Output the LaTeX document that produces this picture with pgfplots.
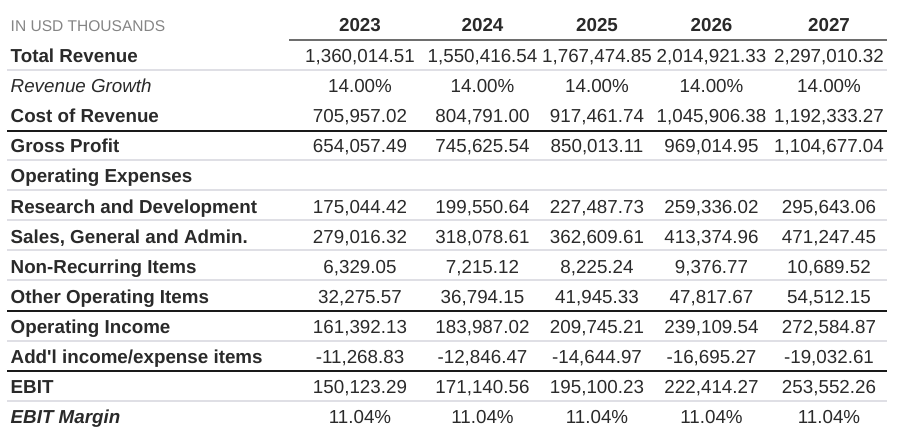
\documentclass[border=0pt]{standalone}
\usepackage{pgfplots}
\pgfplotsset{compat=1.18}
\usepackage{fontspec}
\setmainfont{Liberation Sans}
\definecolor{txt}{HTML}{2A2A2A}
\definecolor{hdr}{HTML}{858585}
\definecolor{rulec}{HTML}{DFDFE5}
\definecolor{darkc}{HTML}{1A1A1A}
\definecolor{hlinec}{HTML}{6E6E6E}
\newcommand{\bodyfont}{\fontsize{18.86}{22}\selectfont}
\begin{document}
\begin{tikzpicture}
\begin{axis}[scale only axis, width=900bp, height=437bp,
  xmin=0, xmax=900, ymin=0, ymax=437, y dir=reverse,
  hide axis, clip=false,
  txtplot/.style={draw=none, mark=none, nodes near coords={\pgfplotspointmeta},
    point meta=explicit symbolic,
    every node near coord/.append style={inner sep=0pt, text=txt, font=\bodyfont}},
]
% frame for bounding box
\addplot[draw=none, mark=none] coordinates {(0,0) (900,437)};
% rules
\addplot[hlinec, line width=1.6bp, mark=none] coordinates {(289,40) (887,40)};
\addplot[rulec, line width=2bp, mark=none] coordinates {(7,70) (887,70)};
\addplot[darkc, line width=2bp, mark=none] coordinates {(7,130.5) (887,130.5)};
\addplot[rulec, line width=2bp, mark=none] coordinates {(7,160) (887,160)};
\addplot[rulec, line width=2bp, mark=none] coordinates {(7,190) (887,190)};
\addplot[rulec, line width=2bp, mark=none] coordinates {(7,220) (887,220)};
\addplot[rulec, line width=2bp, mark=none] coordinates {(7,250) (887,250)};
\addplot[rulec, line width=2bp, mark=none] coordinates {(7,280) (887,280)};
\addplot[darkc, line width=2bp, mark=none] coordinates {(7,310.7) (887,310.7)};
\addplot[rulec, line width=2bp, mark=none] coordinates {(7,340.7) (887,340.7)};
\addplot[darkc, line width=2bp, mark=none] coordinates {(7,370.7) (887,370.7)};
\addplot[rulec, line width=2bp, mark=none] coordinates {(7,400.7) (887,400.7)};
% header
\addplot[txtplot, every node near coord/.append style={anchor=base west, text=hdr, font=\fontsize{15.6}{18}\selectfont}]
  coordinates {(10.5,32) [IN USD THOUSANDS]};
\addplot[txtplot, every node near coord/.append style={anchor=base, font=\bodyfont\bfseries}]
  coordinates {(360,32) [2023] (482.5,32) [2024] (597,32) [2025] (711.5,32) [2026] (829,32) [2027]};
% row labels (bold)
\addplot[txtplot, every node near coord/.append style={anchor=base west, font=\bodyfont\bfseries}]
  coordinates {
  (10.5,62.5) [Total Revenue]
  (10.5,122.7) [Cost of Revenue]
  (10.5,152.8) [Gross Profit]
  (10.5,182.9) [Operating Expenses]
  (10.5,213.0) [Research and Development]
  (10.5,243.1) [Sales, General and Admin.]
  (10.5,273.2) [Non-Recurring Items]
  (10.5,303.3) [Other Operating Items]
  (10.5,333.4) [Operating Income]
  (10.5,363.5) [Add\textquotesingle l income/expense items]
  (10.5,393.6) [EBIT]
  };
\addplot[txtplot, every node near coord/.append style={anchor=base west, font=\bodyfont\itshape}]
  coordinates {(10.5,92.6) [Revenue Growth]};
\addplot[txtplot, every node near coord/.append style={anchor=base west, font=\bodyfont\bfseries\itshape}]
  coordinates {(10.5,423.7) [EBIT Margin]};
% values 2023
\addplot[txtplot, every node near coord/.append style={anchor=base}]
  coordinates {
  (360,62.5) [1,360,014.51] (360,92.6) [14.00\%] (360,122.7) [705,957.02]
  (360,152.8) [654,057.49] (360,213.0) [175,044.42] (360,243.1) [279,016.32]
  (360,273.2) [6,329.05] (360,303.3) [32,275.57] (360,333.4) [161,392.13]
  (360,363.5) [-11,268.83] (360,393.6) [150,123.29] (360,423.7) [11.04\%]
  };
% values 2024
\addplot[txtplot, every node near coord/.append style={anchor=base}]
  coordinates {
  (482.5,62.5) [1,550,416.54] (482.5,92.6) [14.00\%] (482.5,122.7) [804,791.00]
  (482.5,152.8) [745,625.54] (482.5,213.0) [199,550.64] (482.5,243.1) [318,078.61]
  (482.5,273.2) [7,215.12] (482.5,303.3) [36,794.15] (482.5,333.4) [183,987.02]
  (482.5,363.5) [-12,846.47] (482.5,393.6) [171,140.56] (482.5,423.7) [11.04\%]
  };
% values 2025
\addplot[txtplot, every node near coord/.append style={anchor=base}]
  coordinates {
  (597,62.5) [1,767,474.85] (597,92.6) [14.00\%] (597,122.7) [917,461.74]
  (597,152.8) [850,013.11] (597,213.0) [227,487.73] (597,243.1) [362,609.61]
  (597,273.2) [8,225.24] (597,303.3) [41,945.33] (597,333.4) [209,745.21]
  (597,363.5) [-14,644.97] (597,393.6) [195,100.23] (597,423.7) [11.04\%]
  };
% values 2026
\addplot[txtplot, every node near coord/.append style={anchor=base}]
  coordinates {
  (711.5,62.5) [2,014,921.33] (711.5,92.6) [14.00\%] (711.5,122.7) [1,045,906.38]
  (711.5,152.8) [969,014.95] (711.5,213.0) [259,336.02] (711.5,243.1) [413,374.96]
  (711.5,273.2) [9,376.77] (711.5,303.3) [47,817.67] (711.5,333.4) [239,109.54]
  (711.5,363.5) [-16,695.27] (711.5,393.6) [222,414.27] (711.5,423.7) [11.04\%]
  };
% values 2027
\addplot[txtplot, every node near coord/.append style={anchor=base}]
  coordinates {
  (829,62.5) [2,297,010.32] (829,92.6) [14.00\%] (829,122.7) [1,192,333.27]
  (829,152.8) [1,104,677.04] (829,213.0) [295,643.06] (829,243.1) [471,247.45]
  (829,273.2) [10,689.52] (829,303.3) [54,512.15] (829,333.4) [272,584.87]
  (829,363.5) [-19,032.61] (829,393.6) [253,552.26] (829,423.7) [11.04\%]
  };
\end{axis}
\end{tikzpicture}
\end{document}
